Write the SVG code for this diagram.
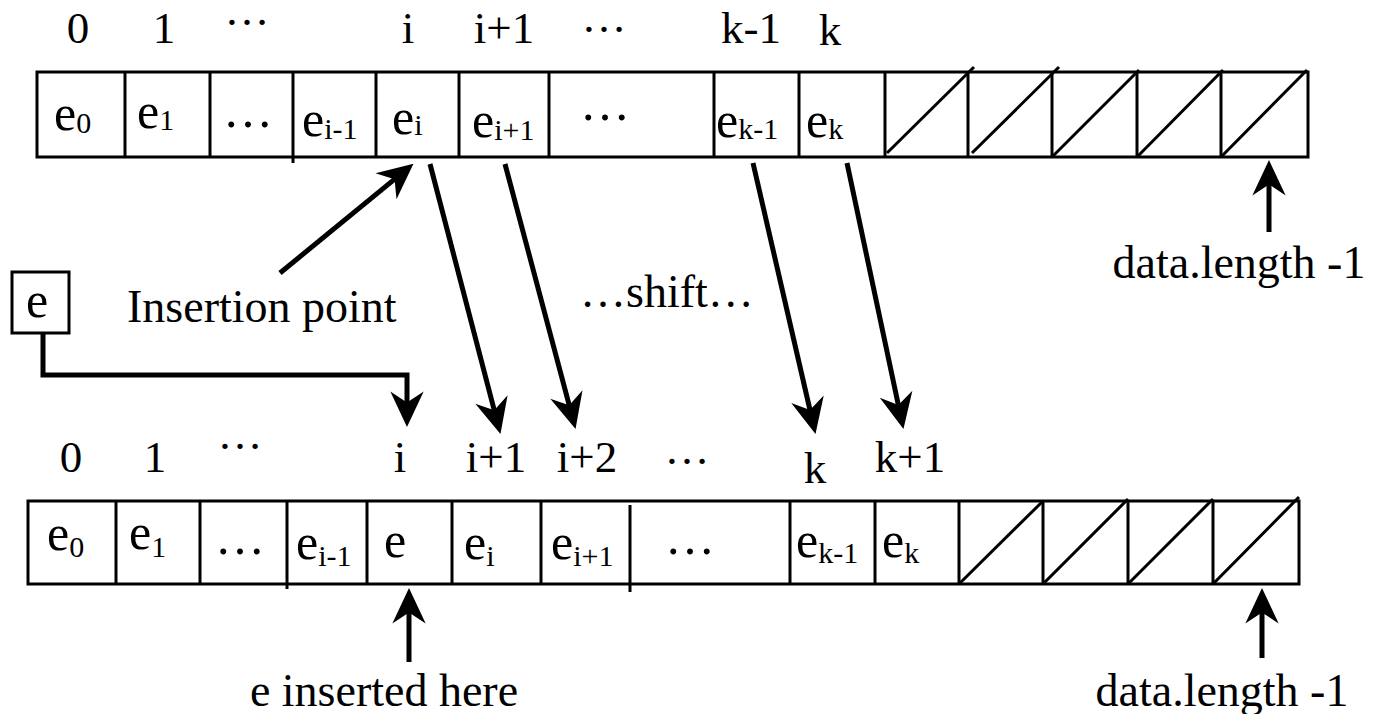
<svg xmlns="http://www.w3.org/2000/svg" width="1381" height="714" viewBox="0 0 1381 714">
<style>
text{font-family:"Liberation Serif","Times New Roman",serif;fill:#000}
.idx{font-size:45px;text-anchor:middle}
.cell{font-size:50px}
.sub{font-size:30px}
.lbl{font-size:46px}
.grid{fill:none;stroke:#000;stroke-width:3}
.arr{fill:none;stroke:#000;stroke-width:5}
</style>
<defs>
<marker id="ah" markerUnits="userSpaceOnUse" markerWidth="40" markerHeight="40" viewBox="-16 -16 36 32" refX="0" refY="0" orient="auto" overflow="visible">
<path d="M18,0 L-14,-15 L-4,0 L-14,15 Z" fill="#000"/>
</marker>
</defs>

<g id="top-array">
<rect class="grid" x="37" y="72" width="1271" height="85"/>
<path class="grid" d="M125,72V157M210,72V157M293,72V163M376,72V157M459,72V157M549,72V157M714,72V157M799,72V157M885,72V157M968,72V157M1052,72V157M1137,72V157M1221,72V157"/>
<path class="grid" d="M887,153L974,67M972,153L1059,67M1052,157L1139,70M1137,157L1223,70M1221,157L1307,70"/>
<text class="cell" x="54" y="130">e<tspan class="sub" dy="3">0</tspan></text>
<text class="cell" x="137" y="128">e<tspan class="sub" dy="2">1</tspan></text>
<text class="cell" x="248" y="127" text-anchor="middle">…</text>
<text class="cell" x="302" y="136">e<tspan class="sub" dy="3">i-1</tspan></text>
<text class="cell" x="392" y="134">e<tspan class="sub" dy="1">i</tspan></text>
<text class="cell" x="472" y="137">e<tspan class="sub" dy="3">i+1</tspan></text>
<text class="cell" x="605" y="120" text-anchor="middle">…</text>
<text class="cell" x="716" y="137">e<tspan class="sub" dy="2">k-1</tspan></text>
<text class="cell" x="806" y="137">e<tspan class="sub" dy="2">k</tspan></text>
</g>

<g id="top-indices">
<text class="idx" x="78" y="43">0</text>
<text class="idx" x="164" y="43">1</text>
<text class="idx" x="247" y="25">…</text>
<text class="idx" x="408" y="43">i</text>
<text class="idx" x="504" y="43">i+1</text>
<text class="idx" x="604" y="32">…</text>
<text class="idx" x="751" y="43">k-1</text>
<text class="idx" x="830" y="45">k</text>
</g>

<g id="bottom-array">
<rect class="grid" x="28" y="501" width="1271" height="83"/>
<path class="grid" d="M116,501V584M200,501V584M287,501V589M367,501V584M452,501V584M541,501V584M630,505V592M790,501V584M875,501V584M959,501V584M1043,501V584M1128,501V584M1213,501V584"/>
<path class="grid" d="M959,584L1043,501M1043,584L1128,499M1128,584L1213,499M1213,584L1299,497"/>
<text class="cell" x="47" y="550">e<tspan class="sub" dy="7">0</tspan></text>
<text class="cell" x="129" y="549">e<tspan class="sub" dy="8">1</tspan></text>
<text class="cell" x="240" y="554" text-anchor="middle">…</text>
<text class="cell" x="296" y="559">e<tspan class="sub" dy="7">i-1</tspan></text>
<text class="cell" x="384" y="557">e</text>
<text class="cell" x="464" y="559">e<tspan class="sub" dy="7">i</tspan></text>
<text class="cell" x="551" y="559">e<tspan class="sub" dy="7">i+1</tspan></text>
<text class="cell" x="690" y="554" text-anchor="middle">…</text>
<text class="cell" x="796" y="557">e<tspan class="sub" dy="6">k-1</tspan></text>
<text class="cell" x="882" y="557">e<tspan class="sub" dy="6">k</tspan></text>
</g>

<g id="bottom-indices">
<text class="idx" x="71" y="472">0</text>
<text class="idx" x="155" y="472">1</text>
<text class="idx" x="240" y="449">…</text>
<text class="idx" x="400" y="472">i</text>
<text class="idx" x="496" y="472">i+1</text>
<text class="idx" x="587" y="472">i+2</text>
<text class="idx" x="687" y="464">…</text>
<text class="idx" x="815" y="483">k</text>
<text class="idx" x="910" y="472">k+1</text>
</g>

<g id="e-box">
<rect class="grid" x="12" y="272" width="57" height="61"/>
<text class="cell" x="26" y="317">e</text>
</g>

<g id="labels">
<text class="lbl" x="127" y="322">Insertion point</text>
<text class="lbl" x="580" y="307">…shift…</text>
<text class="lbl" x="1239" y="278" text-anchor="middle">data.length -1</text>
<text class="lbl" x="1222" y="706" text-anchor="middle">data.length -1</text>
<text class="lbl" x="384" y="706" text-anchor="middle">e inserted here</text>
</g>

<g id="connectors">
<path class="arr" d="M43,333V375H407V407" marker-end="url(#ah)"/>
<path class="arr" d="M280,273L398,176.4" marker-end="url(#ah)"/>
<path class="arr" d="M430,164L495.4,414.6" marker-end="url(#ah)"/>
<path class="arr" d="M505,164L570.4,409.6" marker-end="url(#ah)"/>
<path class="arr" d="M753,163L811,414.4" marker-end="url(#ah)"/>
<path class="arr" d="M847,163L899.3,409.4" marker-end="url(#ah)"/>
<path class="arr" d="M1269,232V180" marker-end="url(#ah)"/>
<path class="arr" d="M1262,658V608" marker-end="url(#ah)"/>
<path class="arr" d="M409,662V608" marker-end="url(#ah)"/>
</g>
</svg>
